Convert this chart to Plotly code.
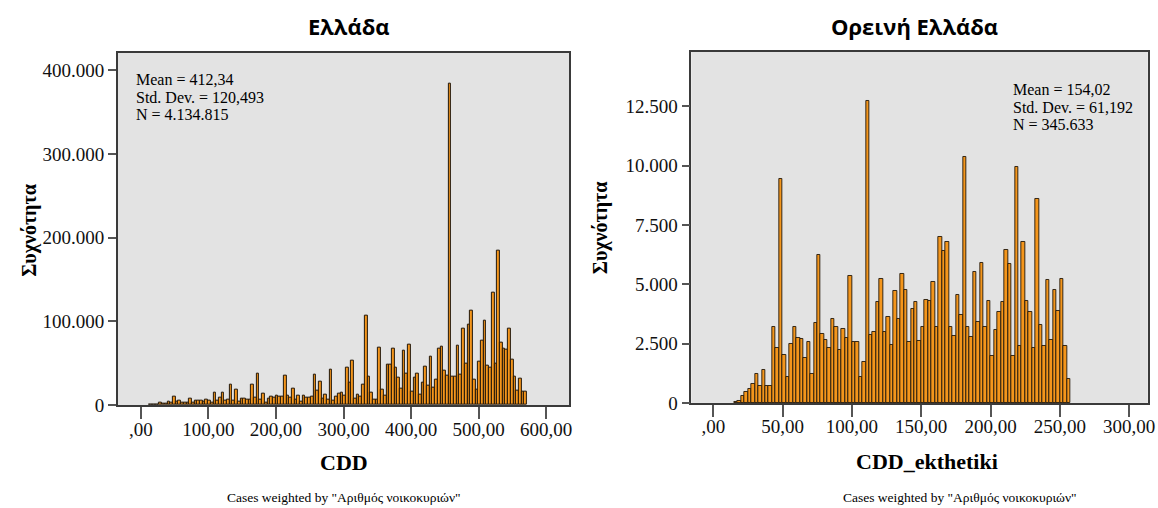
import plotly.graph_objects as go

# ---- data: weighted frequency per bin ----
# Greece: CDD, bins of width 4 starting at 11.4 (values in households)
greece_cdd_freq = [
    300, 500, 800, 1000, 2500, 2000, 1500, 4000, 3500, 10500,
    4000, 5000, 3500, 3500, 3500, 7500, 3500, 5000, 5000, 5000,
    4500, 6400, 5500, 3500, 14300, 5000, 8400, 15000, 5000, 6500,
    24000, 5500, 18300, 4000, 7900, 7500, 7000, 6000, 24000, 8400,
    38000, 6400, 13500, 3500, 7900, 10400, 8400, 11000, 10400, 9600,
    35000, 11000, 8400, 20000, 6400, 11000, 4000, 11500, 8400, 8800,
    10400, 36000, 17700, 27600, 7900, 12000, 6400, 42000, 5500, 10000,
    13700, 15300, 11300, 44400, 26500, 53500, 7400, 12500, 10500, 24100,
    107300, 34400, 14500, 7000, 7000, 69000, 18500, 11300, 48400, 48400,
    67800, 45200, 32800, 19700, 65100, 38000, 72200, 15700, 32400, 37600,
    12500, 27300, 46400, 23700, 58300, 21300, 30000, 67100, 70300, 40800,
    35000, 383900, 34400, 34400, 71400, 36000, 91000, 49600, 96500, 112800,
    30400, 18500, 52300, 76600, 101300, 47200, 44400, 133900, 49600, 184500,
    74200, 67100, 66300, 91000, 54300, 34400, 17300, 31600, 15700, 15700,
]
# Mountainous Greece: CDD_ekthetiki, bins of width 2.5 starting at 15
mountain_cdd_freq = [
    30, 80, 280, 450, 590, 800, 1230, 700, 1370, 700,
    730, 3220, 2310, 9440, 2000, 1090, 2480, 3220, 2740, 2690,
    1890, 2550, 1220, 3370, 6230, 2920, 2640, 2320, 3540, 3200,
    2210, 3130, 2740, 5330, 2580, 2550, 1080, 1740, 12740, 2880,
    2970, 4240, 5220, 2990, 3620, 2450, 4730, 3540, 5440, 4770,
    2550, 3970, 4240, 2620, 3220, 4350, 4280, 5080, 3180, 7010,
    6420, 6760, 3220, 2800, 4560, 3720, 10380, 3180, 2780, 5500,
    3410, 5890, 3180, 4280, 1990, 3090, 3830, 4260, 6450, 5870,
    1960, 9930, 2410, 6760, 4290, 3840, 2300, 8600, 3300, 2380,
    5190, 2660, 4770, 3890, 5230, 2380, 1020,
]

LEFT_BIN_START, LEFT_BIN_WIDTH = 11.4, 4.0
RIGHT_BIN_START, RIGHT_BIN_WIDTH = 15.0, 2.5

left_xticks = [0, 100, 200, 300, 400, 500, 600]
left_xtext = [",00", "100,00", "200,00", "300,00", "400,00", "500,00", "600,00"]
left_yticks = [0, 100000, 200000, 300000, 400000]
left_ytext = ["0", "100.000", "200.000", "300.000", "400.000"]

right_xticks = [0, 50, 100, 150, 200, 250, 300]
right_xtext = [",00", "50,00", "100,00", "150,00", "200,00", "250,00", "300,00"]
right_yticks = [0, 2500, 5000, 7500, 10000, 12500]
right_ytext = ["0", "2.500", "5.000", "7.500", "10.000", "12.500"]

left_stats = ["Mean = 412,34", "Std. Dev. = 120,493", "N = 4.134.815"]
right_stats = ["Mean = 154,02", "Std. Dev. = 61,192", "N = 345.633"]

W, H = 1158, 508
# layout grid used for placing panels and labels
W_GRID = 1152.2
H_GRID = 497.5
BAR_FILL = "#F4961C"
BAR_EDGE = "#22170A"
PLOT_BG = "#E3E3E3"
SERIF = "Liberation Serif, Times New Roman, serif"
SANS = "Open Sans, Noto Sans, sans-serif"


def centers(start, width, n):
    return [start + width * (i + 0.5) for i in range(n)]


def px_x(p):
    return min(p / W_GRID, 1.0)


def px_y(p):
    return 1 - p / H_GRID


fig = go.Figure()
fig.add_trace(go.Bar(
    x=centers(LEFT_BIN_START, LEFT_BIN_WIDTH, len(greece_cdd_freq)),
    y=greece_cdd_freq, width=LEFT_BIN_WIDTH,
    marker=dict(color=BAR_FILL, line=dict(color=BAR_EDGE, width=1.0)),
    xaxis="x", yaxis="y", showlegend=False, hoverinfo="x+y",
))
fig.add_trace(go.Bar(
    x=centers(RIGHT_BIN_START, RIGHT_BIN_WIDTH, len(mountain_cdd_freq)),
    y=mountain_cdd_freq, width=RIGHT_BIN_WIDTH,
    marker=dict(color=BAR_FILL, line=dict(color=BAR_EDGE, width=0.9)),
    xaxis="x2", yaxis="y2", showlegend=False, hoverinfo="x+y",
))

tick_font = dict(family=SERIF, size=19, color="#111")
axis_common = dict(
    showline=True, linecolor="#3a3a3a", linewidth=1.5, mirror=True,
    showgrid=False, zeroline=False, ticks="outside", tickcolor="#555",
    tickwidth=1.5, tickfont=tick_font, fixedrange=True,
)

left_x0, left_x1 = 118, 570
right_x0, right_x1 = 692, 1149
fig.update_layout(
    width=W, height=H, margin=dict(l=0, r=0, t=0, b=0),
    paper_bgcolor="white", plot_bgcolor=PLOT_BG, bargap=0,
    xaxis=dict(domain=[px_x(left_x0), px_x(left_x1)], range=[-34.0, 634.3],
               tickvals=left_xticks, ticktext=left_xtext, ticklen=12,
               ticklabelstandoff=-6, ticklabeloverflow="allow",
               anchor="y", **axis_common),
    yaxis=dict(domain=[px_y(405.5), px_y(52.7)], range=[0, 421300],
               tickvals=left_yticks, ticktext=left_ytext, ticklen=8,
               anchor="x", **axis_common),
    xaxis2=dict(domain=[px_x(right_x0), px_x(right_x1)], range=[-15.85, 313.4],
                tickvals=right_xticks, ticktext=right_xtext, ticklen=12,
                ticklabelstandoff=-6, ticklabeloverflow="allow",
                anchor="y2", **axis_common),
    yaxis2=dict(domain=[px_y(403.3), px_y(52)], range=[0, 14785],
                tickvals=right_yticks, ticktext=right_ytext, ticklen=8,
                anchor="x2", **axis_common),
)

ann = []


def text(x, y, s, size, family, bold=False, angle=0, xanchor="center"):
    ann.append(dict(
        x=px_x(x), y=px_y(y), xref="paper", yref="paper", text=f"<b>{s}</b>" if bold else s,
        showarrow=False, xanchor=xanchor, yanchor="middle", textangle=angle,
        font=dict(family=family, size=size, color="#000"),
    ))


# panel titles
text(349, 26, "Ελλάδα", 22, SANS, bold=True)
text(915, 26, "Ορεινή Ελλάδα", 22, SANS, bold=True)
# axis titles
text(30, 230, "Συχνότητα", 20, SERIF, bold=True, angle=-90)
text(601, 228, "Συχνότητα", 20, SERIF, bold=True, angle=-90)
text(344, 463, "CDD", 22, SERIF, bold=True)
text(928, 462, "CDD_ekthetiki", 22, SERIF, bold=True)
# weighting note
text(344, 498.5, "Cases weighted by \"Αριθμός νοικοκυριών\"", 13.5, SERIF)
text(961, 497.5, "Cases weighted by \"Αριθμός νοικοκυριών\"", 13.5, SERIF)
# summary statistics, one line per annotation
for i, s in enumerate(left_stats):
    text(134, 79.5 + 17.8 * i, s, 16, SERIF, xanchor="left")
for i, s in enumerate(right_stats):
    text(1012, 89.5 + 17.8 * i, s, 16, SERIF, xanchor="left")

fig.update_layout(annotations=ann)
fig.write_html("out.html")
